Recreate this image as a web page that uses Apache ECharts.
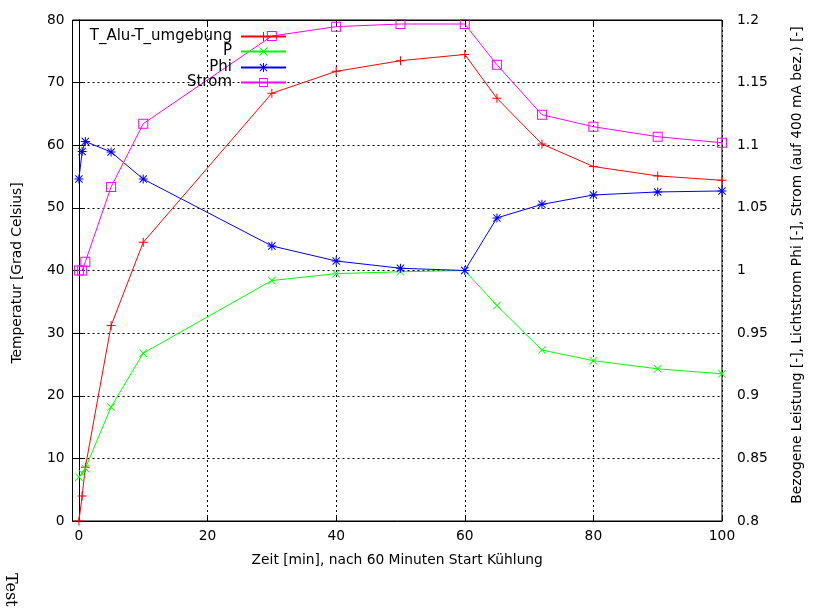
<!DOCTYPE html>
<html>
<head>
<meta charset="utf-8">
<script src="https://cdn.jsdelivr.net/npm/echarts@6/dist/echarts.min.js"></script>
<style>
html,body{margin:0;padding:0;background:#fff;}
#chart{width:814px;height:614px;}
</style>
</head>
<body>
<div id="chart"></div>
<script>
// ---- data ----
const zeit = [0, 0.5, 1, 5, 10, 30, 40, 50, 60, 65, 72, 80, 90, 100];
const tAluUmgebung = [0, 4.0, 8.6, 31.2, 44.5, 68.3, 71.8, 73.5, 74.5, 67.5, 60.2, 56.6, 55.1, 54.4];
const leistungP = [0.835, 0.838, 0.842, 0.891, 0.934, 0.992, 0.9975, 0.999, 1.0, 0.972, 0.9365, 0.928, 0.9215, 0.9175];
const lichtstromPhi = [1.073, 1.095, 1.103, 1.0946, 1.073, 1.0196, 1.0076, 1.0018, 1.0, 1.042, 1.0528, 1.0603, 1.0627, 1.0635];
const strom = [1.0, 1.0, 1.007, 1.0667, 1.1172, 1.1872, 1.1947, 1.1968, 1.1968, 1.1643, 1.1244, 1.1148, 1.1068, 1.102];
const seriesNames = ['T_Alu-T_umgebung', 'P', 'Phi', 'Strom'];
const xTitle = 'Zeit [min], nach 60 Minuten Start Kühlung';
const yTitle = 'Temperatur [Grad Celsius]';
const y2Title = 'Bezogene Leistung [-], Lichtstrom Phi [-], Strom (auf 400 mA bez.) [-]';
const cornerText = 'Test';

const FONT = 'DejaVu Sans';
const FS = 13.8;

const SYM_PLUS = 'path://M0,4 H9 V5 H0 Z M4,0 H5 V9 H4 Z';
const SYM_CROSS = 'path://M0,0.7 L0.7,0 L9,8.3 L8.3,9 Z M8.3,0 L9,0.7 L0.7,9 L0,8.3 Z';
const SYM_STAR = 'path://M0,4 H9 V5 H0 Z M4,0 H5 V9 H4 Z M0.5,1.2 L1.2,0.5 L8.5,7.8 L7.8,8.5 Z M7.8,0.5 L8.5,1.2 L1.2,8.5 L0.5,7.8 Z';
const SYM_SQUARE = 'path://M0,0 H10 V10 H0 Z M1,1 V9 H9 V1 Z';

function pairs(xs, ys){ return xs.map((x,i)=>[x, ys[i]]); }

const chart = echarts.init(document.getElementById('chart'), null, {renderer:'canvas'});

const gridDash = {show:true, lineStyle:{color:'#000', width:1, type:[2,3]}};

const legendRows = [29, 44, 60, 75];
const legends = seriesNames.map((n,i)=>({
  data:[n], orient:'vertical', right:527, top:legendRows[i], align:'right',
  itemWidth:45, itemHeight:11, padding:0, itemGap:0,
  textStyle:{fontFamily:FONT, fontSize:15, color:'#000', padding:[0,4,0,0]},
  selectedMode:false
}));

const option = {
  animation:false,
  backgroundColor:'#fff',
  grid:{left:72.5, right:92, top:20, bottom:93, show:true, borderColor:'#000', borderWidth:1, backgroundColor:'transparent'},
  legend: legends,
  xAxis:[{
    type:'value', min:-1, max:100, splitNumber:5, position:'bottom',
    axisLine:{show:true, lineStyle:{color:'#000', width:1}},
    axisTick:{show:true, inside:true, length:6, lineStyle:{color:'#000'}},
    axisLabel:{margin:8, color:'#000', fontFamily:FONT, fontSize:FS, formatter:v=> v < 0 ? '' : String(Math.round(v))},
    splitLine:gridDash,
    name:xTitle, nameLocation:'middle', nameGap:32,
    nameTextStyle:{fontFamily:FONT, fontSize:FS, color:'#000'}
  },{
    type:'value', min:-1, max:100, splitNumber:5, position:'top',
    axisLine:{show:true, lineStyle:{color:'#000', width:1}},
    axisTick:{show:true, inside:true, length:6, lineStyle:{color:'#000'}},
    axisLabel:{show:false}, splitLine:{show:false}
  }],
  yAxis:[{
    type:'value', min:0, max:80, interval:10, position:'left',
    axisLine:{show:true, lineStyle:{color:'#000', width:1}},
    axisTick:{show:true, inside:true, length:6, lineStyle:{color:'#000'}},
    axisLabel:{margin:8, color:'#000', fontFamily:FONT, fontSize:FS},
    splitLine:gridDash,
    name:yTitle, nameLocation:'middle', nameRotate:90, nameGap:48,
    nameTextStyle:{fontFamily:FONT, fontSize:FS, color:'#000', padding:[0,5,0,0]}
  },{
    type:'value', min:0.8, max:1.2, interval:0.05, position:'right',
    axisLine:{show:true, lineStyle:{color:'#000', width:1}},
    axisTick:{show:true, inside:true, length:6, lineStyle:{color:'#000'}},
    axisLabel:{margin:15, color:'#000', fontFamily:FONT, fontSize:FS, formatter:v=>String(+v.toFixed(2))},
    splitLine:{show:false},
    name:y2Title, nameLocation:'middle', nameRotate:90, nameGap:68,
    nameTextStyle:{fontFamily:FONT, fontSize:FS, color:'#000', padding:[0,0,0,11]}
  }],
  series:[
    {name:seriesNames[0], type:'line', xAxisIndex:0, yAxisIndex:0, data:pairs(zeit, tAluUmgebung),
     symbol:SYM_PLUS, symbolSize:9, showAllSymbol:true, color:'#ff0000',
     lineStyle:{color:'#ff0000', width:1}, itemStyle:{color:'#ff0000', borderWidth:0}},
    {name:seriesNames[1], type:'line', xAxisIndex:0, yAxisIndex:1, data:pairs(zeit, leistungP),
     symbol:SYM_CROSS, symbolSize:8, showAllSymbol:true, color:'#00ff00',
     lineStyle:{color:'#00ff00', width:1}, itemStyle:{color:'#00ff00', borderWidth:0}},
    {name:seriesNames[2], type:'line', xAxisIndex:0, yAxisIndex:1, data:pairs(zeit, lichtstromPhi),
     symbol:SYM_STAR, symbolSize:9, showAllSymbol:true, color:'#0000ff',
     lineStyle:{color:'#0000ff', width:1}, itemStyle:{color:'#0000ff', borderWidth:0}},
    {name:seriesNames[3], type:'line', xAxisIndex:0, yAxisIndex:1, data:pairs(zeit, strom),
     symbol:SYM_SQUARE, symbolSize:10, showAllSymbol:true, color:'#ff00ff',
     lineStyle:{color:'#ff00ff', width:1}, itemStyle:{color:'#ff00ff', borderWidth:0}}
  ],
  graphic:[{
    type:'text', x:18, y:573, rotation:-Math.PI/2,
    style:{text:cornerText, font:'16px "DejaVu Serif"', fill:'#000', textVerticalAlign:'top', textAlign:'left'}
  }]
};
chart.setOption(option);
</script>
</body>
</html>
